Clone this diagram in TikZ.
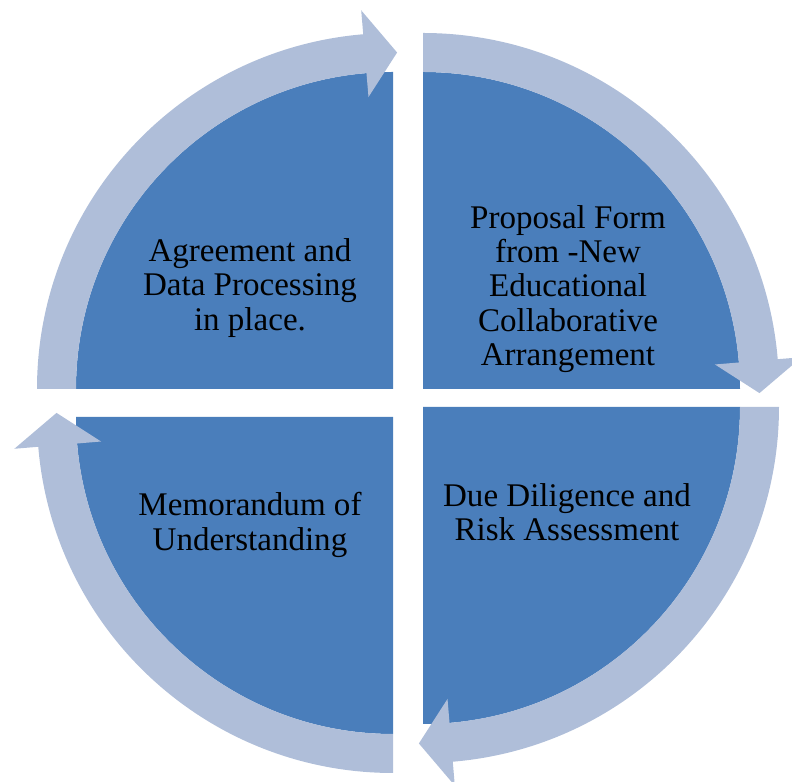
\documentclass[tikz,border=0pt]{standalone}
\usepackage{fontspec}
\setmainfont{Liberation Serif}
\usetikzlibrary{positioning}
\definecolor{quadblue}{HTML}{4A7EBB}
\definecolor{ringblue}{HTML}{AFBED9}
\tikzset{quad/.style={fill=quadblue}}
\tikzset{ring/.style={fill=ringblue}}
\tikzset{qtext/.style={align=center,text=black,font=\fontsize{23.5}{24.4}\selectfont}}

\begin{document}
\begin{tikzpicture}[x=0.025cm,y=0.025cm]
    \useasboundingbox (0,0) rectangle (792,782);

    % one quarter of the ring, from \sa clockwise to its arrow head
    \def\ringarrow{
    \begin{scope}[shift={(\cx,\cy)}]
        \fill [ring] (\sa:356) arc [start angle=\sa, end angle=\sa-85.2, radius=356]
            -- ({\sa-85.2}:380) -- ({\sa-90.7}:336.5) -- ({\sa-85.2}:293)
            -- ({\sa-85.2}:317) arc [start angle=\sa-85.2, end angle=\sa, radius=317] -- cycle;
    \end{scope}
    }
    \def\quarter{
    \fill [quad] (\cx,\cy) -- +(\sa:317) arc [start angle=\sa, end angle=\sa-90, radius=317] -- cycle;
    }

    \def\cx{393} \def\cy{393} \def\sa{180} \quarter \ringarrow
    \def\cx{423} \def\cy{393} \def\sa{90}  \quarter \ringarrow
    \def\cx{423} \def\cy{375} \def\sa{0}   \quarter \ringarrow
    \def\cx{393} \def\cy{365} \def\sa{270} \quarter \ringarrow

    \node (agree) [qtext] at (250,494) {Agreement and\\Data Processing\\in place.};
    \node (proposal) [qtext] at (568,493) {Proposal Form\\from -New\\Educational\\Collaborative\\Arrangement};
    \node (diligence) [qtext] at (567,270) {Due Diligence and\\Risk Assessment};
    \node (memo) [qtext] at (250,257) {Memorandum of\\Understanding};
\end{tikzpicture}
\end{document}
